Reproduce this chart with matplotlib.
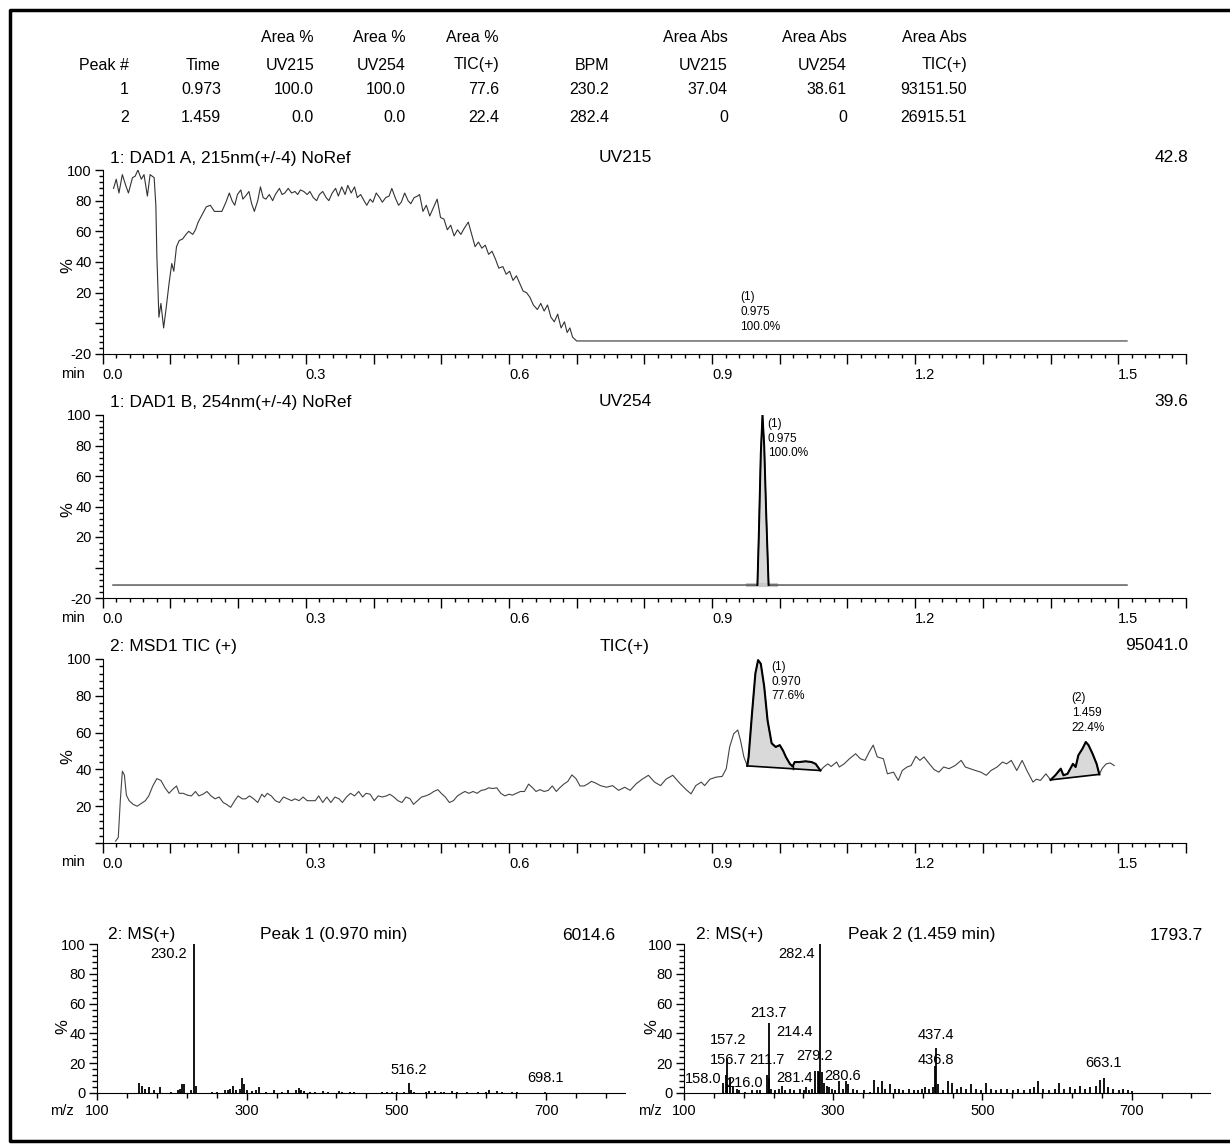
import numpy as np
import matplotlib.pyplot as plt
from matplotlib.ticker import MultipleLocator
from matplotlib.lines import Line2D

plt.rcParams['font.family'] = ['Liberation Sans', 'DejaVu Sans']

W, H = 1230, 1146

# ---- peak table ----
table_groups = ['', '', 'Area %', 'Area %', 'Area %', '', 'Area Abs', 'Area Abs', 'Area Abs']
table_cols = ['Peak #', 'Time', 'UV215', 'UV254', 'TIC(+)', 'BPM', 'UV215', 'UV254', 'TIC(+)']
peak_no = ['1', '2']
peak_time = ['0.973', '1.459']
area_pct_uv215 = ['100.0', '0.0']
area_pct_uv254 = ['100.0', '0.0']
area_pct_tic = ['77.6', '22.4']
bpm = ['230.2', '282.4']
area_abs_uv215 = ['37.04', '0']
area_abs_uv254 = ['38.61', '0']
area_abs_tic = ['93151.50', '26915.51']

# ---- UV 215 trace (min, %) ----
uv215_t = [0.016, 0.020, 0.024, 0.029, 0.034, 0.038, 0.044, 0.048, 0.052, 0.057,
           0.061, 0.066, 0.070, 0.076, 0.0785, 0.080, 0.083, 0.086, 0.090, 0.094,
           0.098, 0.102, 0.105, 0.109, 0.113, 0.118, 0.123, 0.127, 0.133, 0.137,
           0.141, 0.147, 0.153, 0.159, 0.165, 0.170, 0.176, 0.182, 0.187, 0.191,
           0.195, 0.199, 0.204, 0.207, 0.211, 0.216, 0.220, 0.224, 0.229, 0.233,
           0.237, 0.241, 0.246, 0.251, 0.255, 0.261, 0.265, 0.269, 0.274, 0.279,
           0.284, 0.288, 0.292, 0.297, 0.302, 0.306, 0.311, 0.316, 0.320, 0.325,
           0.330, 0.334, 0.339, 0.344, 0.348, 0.353, 0.358, 0.362, 0.367, 0.372,
           0.376, 0.381, 0.386, 0.390, 0.395, 0.399, 0.404, 0.409, 0.413, 0.418,
           0.423, 0.427, 0.432, 0.437, 0.441, 0.446, 0.451, 0.455, 0.460, 0.465,
           0.468, 0.473, 0.478, 0.483, 0.488, 0.494, 0.499, 0.504, 0.509, 0.514,
           0.519, 0.524, 0.529, 0.534, 0.540, 0.545, 0.550, 0.555, 0.560, 0.565,
           0.570, 0.575, 0.580, 0.585, 0.591, 0.596, 0.601, 0.606, 0.611, 0.616,
           0.621, 0.626, 0.631, 0.636, 0.642, 0.647, 0.652, 0.657, 0.662, 0.667,
           0.672, 0.677, 0.682, 0.686, 0.690, 0.694, 0.700, 1.513]
uv215_v = [88, 94, 85, 97, 90, 85, 95, 96, 100, 94,
           97, 83, 97, 95, 77, 44, 4, 13, -3, 11,
           26, 39, 34, 50, 54, 55, 58, 60, 58, 61,
           66, 71, 76, 77, 73, 73, 73, 79, 85, 80,
           77, 84, 87, 81, 83, 86, 78, 73, 80, 89,
           82, 81, 84, 80, 84, 88, 84, 85, 88, 85,
           86, 84, 87, 86, 84, 86, 82, 80, 84, 86,
           82, 80, 85, 88, 83, 89, 84, 90, 85, 89,
           82, 84, 80, 77, 81, 79, 85, 82, 79, 82,
           83, 88, 82, 77, 79, 85, 80, 78, 82, 83,
           84, 73, 77, 70, 75, 81, 69, 68, 61, 64,
           57, 61, 58, 62, 66, 58, 50, 53, 49, 51,
           45, 47, 42, 36, 37, 32, 34, 28, 31, 26,
           21, 20, 17, 12, 9, 13, 8, 12, 4, 1,
           6, -3, 1, -6, -3, -9, -11.5, -11.5]

# ---- UV 254 trace ----
uv254_t = [0.015, 0.967, 0.969, 0.972, 0.9745, 0.977, 0.980, 0.9835, 1.513]
uv254_v = [-11.5, -11.5, 20, 75, 100, 80, 35, -11.5, -11.5]

# ---- TIC trace ----
tic_t = [0.019, 0.023, 0.026, 0.029, 0.032, 0.035, 0.039, 0.045, 0.051, 0.057,
         0.063, 0.068, 0.074, 0.080, 0.086, 0.092, 0.098, 0.103, 0.109, 0.113,
         0.119, 0.125, 0.131, 0.137, 0.142, 0.148, 0.154, 0.160, 0.166, 0.172,
         0.178, 0.183, 0.189, 0.195, 0.200, 0.206, 0.211, 0.217, 0.223, 0.229,
         0.235, 0.239, 0.243, 0.249, 0.255, 0.261, 0.267, 0.273, 0.279, 0.284,
         0.290, 0.296, 0.302, 0.308, 0.314, 0.319, 0.325, 0.331, 0.337, 0.343,
         0.349, 0.354, 0.360, 0.366, 0.372, 0.378, 0.384, 0.389, 0.395, 0.401,
         0.407, 0.413, 0.419, 0.424, 0.430, 0.436, 0.442, 0.448, 0.454, 0.459,
         0.465, 0.471, 0.477, 0.483, 0.489, 0.495, 0.500, 0.506, 0.512, 0.518,
         0.524, 0.530, 0.535, 0.541, 0.547, 0.553, 0.559, 0.565, 0.570, 0.576,
         0.582, 0.588, 0.594, 0.600, 0.605, 0.611, 0.617, 0.623, 0.629, 0.635,
         0.640, 0.646, 0.652, 0.658, 0.664, 0.670, 0.675, 0.681, 0.687, 0.693,
         0.699, 0.705, 0.711, 0.716, 0.722, 0.728,
         0.735, 0.744, 0.753, 0.762, 0.771, 0.779, 0.788, 0.797, 0.806, 0.815,
         0.824, 0.832, 0.842, 0.853, 0.862, 0.869, 0.876, 0.884, 0.889, 0.897,
         0.906, 0.915, 0.921, 0.926, 0.932, 0.938, 0.942, 0.947, 0.952, 0.954,
         0.959, 0.964, 0.968, 0.972, 0.977, 0.982, 0.988, 0.994, 1.000, 1.005,
         1.009, 1.015, 1.019, 1.022, 1.029, 1.038, 1.047, 1.053, 1.060, 1.065,
         1.071, 1.076, 1.084, 1.088, 1.095, 1.103, 1.112, 1.119, 1.126, 1.132,
         1.138, 1.144, 1.153, 1.159, 1.168, 1.175, 1.181, 1.188, 1.194, 1.201,
         1.207, 1.213, 1.221, 1.228, 1.235, 1.242, 1.250, 1.259, 1.268, 1.274,
         1.281, 1.289, 1.297, 1.305, 1.312, 1.321, 1.329, 1.335, 1.342, 1.350,
         1.358, 1.365, 1.374, 1.379, 1.385, 1.393, 1.400, 1.407, 1.415, 1.419,
         1.425, 1.433, 1.437, 1.441, 1.447, 1.452, 1.456, 1.462, 1.468, 1.472,
         1.476, 1.482, 1.488, 1.494]
tic_v = [1, 3, 23, 39, 37, 26, 23, 21, 20, 21.5,
         23, 25.6, 31, 35, 34, 30, 27, 29, 31, 27,
         27, 26, 25.6, 28, 25.6, 26.5, 28, 25.6, 24, 25,
         22, 21, 19.4, 23, 25.6, 24, 24, 25.6, 24, 22,
         26.5, 25, 27, 25.6, 23, 22, 25, 24, 23, 24,
         23, 25, 23, 23, 23, 25.6, 22, 25, 22, 25,
         24, 22, 25, 27, 25.6, 28, 25, 27, 26.5, 23,
         25.6, 25, 25.6, 26.5, 25, 23, 22, 25, 24, 21,
         23, 25, 25.6, 26.5, 28, 29, 27, 25, 22, 23,
         25.6, 27, 28, 27, 28, 27, 28.6, 29, 30, 29.6,
         30, 27, 25.6, 26.5, 26, 27, 28, 28, 32, 30,
         28, 29, 28, 28.6, 31, 28, 30, 32, 33.5, 37,
         35, 31, 31, 32, 33.5, 32.6,
         31.2, 30.3, 31.2, 28.6, 30.3, 28.6, 32.2, 34.7, 36.8, 33.1,
         31.2, 34.7, 36.8, 32.2, 28.9, 26.7, 31.2, 33.1, 31.2, 34.7,
         35.8, 36.2, 40.4, 52.2, 59.4, 61.4, 55.8, 46.8, 41.9, 46.8,
         70.4, 92.2, 99.4, 97.4, 85.1, 66.6, 54.2, 52.2, 53.2, 50.1,
         46.8, 43.0, 41.6, 44.0, 44.0, 44.4, 44.0, 43.0, 39.4, 41.3,
         43.0, 41.6, 44.0, 41.3, 43.0, 45.8, 48.5, 45.8, 44.9, 49.4,
         53.2, 46.8, 45.8, 37.6, 38.5, 34.0, 39.4, 41.3, 42.1, 47.1,
         44.9, 46.8, 43.0, 39.9, 38.5, 41.3, 40.4, 42.1, 44.9, 41.3,
         40.4, 39.4, 38.5, 36.8, 39.4, 41.3, 44.0, 43.0, 44.9, 39.4,
         44.9, 39.4, 33.1, 34.7, 34.0, 37.6, 34.3, 36.8, 40.4, 36.8,
         37.6, 43.0, 41.3, 47.7, 51.2, 54.9, 53.2, 48.5, 43.0, 37.3,
         40.4, 43.0, 43.5, 42.1]

# integration baselines of the TIC peaks
tic_base1_t = [0.952, 1.060]
tic_base1_v = [41.9, 39.4]
tic_valley_t = 1.019
tic_base2_t = [1.400, 1.472]
tic_base2_v = [34.3, 37.3]

# ---- mass spectra ----
ms1_mz = [157, 160, 164, 170, 176, 185, 199, 208, 211, 214,
          217, 226, 230.2, 233, 254, 260, 271, 275, 278, 282,
          286, 291, 293.5, 296, 300, 307, 312, 317, 326, 337,
          347, 355, 366, 370, 373, 377, 385, 391, 402, 409,
          423, 428, 438, 444, 481, 488, 494, 501, 510, 516.2,
          520, 524, 539, 544, 551, 559, 564, 574, 581, 594,
          609, 619, 624, 634, 641, 654, 661, 698.1]
ms1_pct = [7, 5, 3, 4, 2, 4, 1, 2, 3, 6,
           6, 2, 100, 5, 1, 1, 2, 2, 3, 5,
           2, 3, 10, 6, 2, 1.5, 2, 4, 1, 2,
           1, 2, 2, 3.5, 2, 1.5, 1, 1, 1.5, 1,
           1.5, 1, 1, 0.8, 0.8, 0.8, 1, 1, 1, 7,
           2, 1, 1, 1.5, 1.5, 1, 1, 1.5, 1, 1,
           1, 1, 2, 1.5, 1, 1, 1, 0.5]
ms1_labels = ['230.2', '516.2', '698.1']
ms1_label_x = [195.4, 516.5, 698.5]
ms1_label_y = [93.3, 15.4, 10.1]

ms2_mz = [152.6, 156.7, 157.2, 158.0, 162.2, 165.3, 171.4, 173.9, 181.7, 191.1,
          197.2, 202.2, 211.7, 213.7, 214.4, 216.0, 222.5, 227.5, 231.6, 235.6,
          241.7, 247.8, 255.8, 260.9, 263.9, 268, 272, 275.6, 279.2, 280.6,
          281.4, 282.4, 285, 288, 291.6, 295, 299, 302.6, 307.6, 312.6,
          316.6, 320, 326, 332, 341, 349, 354.6, 359.8, 364.9, 370,
          376.5, 382.6, 387.7, 393.8, 400.9, 407.6, 413.7, 418.7, 422.9, 429,
          434.1, 436.8, 437.4, 441, 447, 453.4, 459, 465.6, 471.7, 477.8,
          484.6, 491, 498, 505, 511.6, 517.7, 525.3, 533, 540.4, 548.3,
          555.6, 563.6, 569.7, 574.8, 581.4, 589, 596.8, 603.2, 609.2, 617.3,
          623.4, 631, 637.6, 644.3, 652.8, 657.9, 663.1, 668, 675, 683,
          688, 695, 700.3]
ms2_pct = [7, 12, 23, 6, 10, 4, 3, 2, 1, 2,
           2, 2, 12, 47, 10, 3, 2, 3, 5, 2,
           3, 2, 3, 2, 4, 2, 3, 15, 15, 8,
           14, 100, 14, 7, 5, 4, 3, 2, 8, 3,
           8, 6, 3, 2, 2, 1, 9, 4, 8, 3,
           6, 3, 3, 2, 3, 2, 2, 3, 4, 3,
           4, 18, 30, 6, 2, 8, 7, 3, 4, 3,
           6, 3, 2, 7, 3, 2, 3, 3, 2, 3,
           2, 3, 4, 8, 3, 2, 3, 7, 3, 4,
           3, 5, 3, 4, 5, 9, 10, 4, 3, 2,
           3, 2, 1.5]
ms2_labels = ['282.4', '213.7', '214.4', '157.2', '156.7', '211.7', '279.2',
              '158.0', '216.0', '281.4', '280.6', '437.4', '436.8', '663.1']
ms2_label_x = [275.1, 213.6, 224.3, 158.8, 158.8, 211.0, 275.1,
               125.4, 181.6, 248.4, 312.6, 438.2, 438.2, 662.8]
ms2_label_y = [93.3, 53.7, 40.9, 35.6, 22.1, 22.1, 24.8,
               9.4, 6.7, 10.1, 11.4, 38.9, 22.1, 20.1]
ms2_label_ha = ['right', 'center', 'left', 'center', 'center', 'center', 'center',
                'center', 'center', 'center', 'center', 'center', 'center', 'center']

fig = plt.figure(figsize=(W / 100, H / 100), dpi=100)


def ftext(x, y, s, **kw):
    kw.setdefault('va', 'center')
    fig.text(x / W, 1 - y / H, s, **kw)


# page frame
fig.add_artist(Line2D([1, 10 / W, 10 / W, 1], [1 - 10 / H, 1 - 10 / H, 1 - 1141 / H, 1 - 1141 / H],
                      transform=fig.transFigure, color='black', lw=2.5))

# peak table
col_x = [129, 221, 314, 406, 499, 609, 728, 847, 967]
table_rows = list(zip(peak_no, peak_time, area_pct_uv215, area_pct_uv254, area_pct_tic,
                      bpm, area_abs_uv215, area_abs_uv254, area_abs_tic))
for x, g, c in zip(col_x, table_groups, table_cols):
    ftext(x, 37, g, ha='right', fontsize=11.5)
    ftext(x, 65, c, ha='right', fontsize=11.5)
for y, row in zip([90, 117], table_rows):
    for x, s in zip(col_x, row):
        ftext(x, y, s, ha='right', fontsize=11.5)


def chrom_axes(y_top, y_bot, ymin):
    ax = fig.add_axes([102.7 / W, 1 - y_bot / H, (1186 - 102.7) / W, (y_bot - y_top) / H])
    ax.patch.set_alpha(0)
    ax.set_xlim(0, 1.6)
    ax.set_ylim(ymin, 100)
    ax.spines[['top', 'right']].set_visible(False)
    xt = [round(0.1 * i, 1) for i in range(17)]
    xl = [f'{v:.1f}' if i % 3 == 0 and i <= 15 else '' for i, v in enumerate(xt)]
    ax.set_xticks(xt, xl)
    ax.xaxis.set_minor_locator(MultipleLocator(0.02))
    yt = list(range(ymin, 101, 20))
    ax.set_yticks(yt, [str(v) if v != 0 or ymin == 0 and False else '' for v in yt])
    ax.yaxis.set_minor_locator(MultipleLocator(4))
    ax.tick_params(which='major', length=6, width=1, labelsize=10.5, pad=2)
    ax.tick_params(which='minor', length=3, width=1)
    ax.tick_params(axis='x', which='major', length=7, pad=3)
    for lab in ax.get_xticklabels():
        lab.set_horizontalalignment('left')
    return ax


# panel 1: UV215
ax1 = chrom_axes(170, 354, -20)
ax1.plot(uv215_t, uv215_v, color='#333333', lw=0.8)
ax1.text(0.942, 21, '(1)\n0.975\n100.0%', fontsize=8.5, va='top', ha='left', linespacing=1.3)
ftext(110, 158, '1: DAD1 A, 215nm(+/-4) NoRef', ha='left', fontsize=12.5)
ftext(625, 158, 'UV215', ha='center', fontsize=12.5)
ftext(1188, 158, '42.8', ha='right', fontsize=12.5)
ftext(73, 374, 'min', ha='center', fontsize=10.5)
ftext(68, 266, '%', ha='center', rotation=90, fontsize=12)

# panel 2: UV254
ax2 = chrom_axes(415, 598, -20)
t2 = np.array(uv254_t)
v2 = np.array(uv254_v)
pk = (t2 >= 0.967) & (t2 <= 0.9835)
ax2.plot([0.950, 0.998], [-11.5, -11.5], color='#c8c8c8', lw=3, solid_capstyle='butt')
ax2.fill_between(t2[pk], -11.5, v2[pk], color='#d9d9d9', lw=0)
ax2.plot(uv254_t, uv254_v, color='#333333', lw=0.9)
ax2.plot(t2[pk], v2[pk], color='black', lw=1.4)
ax2.text(0.982, 98, '(1)\n0.975\n100.0%', fontsize=8.5, va='top', ha='left', linespacing=1.3)
ftext(110, 402, '1: DAD1 B, 254nm(+/-4) NoRef', ha='left', fontsize=12.5)
ftext(625, 402, 'UV254', ha='center', fontsize=12.5)
ftext(1188, 402, '39.6', ha='right', fontsize=12.5)
ftext(73, 618, 'min', ha='center', fontsize=10.5)
ftext(68, 510, '%', ha='center', rotation=90, fontsize=12)

# panel 3: TIC
ax3 = chrom_axes(659, 843, 0)
t3 = np.array(tic_t)
v3 = np.array(tic_v)
for bt, bv in [(tic_base1_t, tic_base1_v), (tic_base2_t, tic_base2_v)]:
    sel = (t3 >= bt[0]) & (t3 <= bt[1])
    base = np.interp(t3[sel], bt, bv)
    ax3.fill_between(t3[sel], base, v3[sel], color='#d9d9d9', lw=0)
ax3.plot(t3, v3, color='#444444', lw=0.8)
for bt, bv in [(tic_base1_t, tic_base1_v), (tic_base2_t, tic_base2_v)]:
    sel = (t3 >= bt[0]) & (t3 <= bt[1])
    ax3.plot(t3[sel], v3[sel], color='black', lw=1.5)
    ax3.plot(bt, bv, color='black', lw=1.2)
    ax3.plot([bt[0], bt[0]], [bv[0], v3[sel][0]], color='black', lw=1.2)
    ax3.plot([bt[1], bt[1]], [bv[1], v3[sel][-1]], color='black', lw=1.2)
vv = np.interp(tic_valley_t, tic_t, tic_v)
ax3.plot([tic_valley_t, tic_valley_t], [np.interp(tic_valley_t, tic_base1_t, tic_base1_v), vv],
         color='black', lw=1.0)
ax3.text(0.988, 99, '(1)\n0.970\n77.6%', fontsize=8.5, va='top', ha='left', linespacing=1.3)
ax3.text(1.431, 82, '(2)\n1.459\n22.4%', fontsize=8.5, va='top', ha='left', linespacing=1.3)
ftext(110, 646, '2: MSD1 TIC (+)', ha='left', fontsize=12.5)
ftext(625, 646, 'TIC(+)', ha='center', fontsize=12.5)
ftext(1188, 646, '95041.0', ha='right', fontsize=12.5)
ftext(73, 862, 'min', ha='center', fontsize=10.5)
ftext(68, 757, '%', ha='center', rotation=90, fontsize=12)


def ms_axes(x0, x1):
    ax = fig.add_axes([x0 / W, 1 - 1093 / H, (x1 - x0) / W, 149 / H])
    ax.patch.set_alpha(0)
    ax.set_xlim(100, 805)
    ax.set_ylim(0, 100)
    ax.spines[['top', 'right']].set_visible(False)
    ax.set_xticks([100, 300, 500, 700])
    ax.xaxis.set_minor_locator(MultipleLocator(40, offset=20))
    ax.set_yticks(range(0, 101, 20))
    ax.yaxis.set_minor_locator(MultipleLocator(4))
    ax.tick_params(which='major', length=6, width=1, labelsize=10.5, pad=2)
    ax.tick_params(which='minor', length=3.5, width=1)
    ax.tick_params(axis='x', which='major', length=5, pad=3)
    return ax


# MS of peak 1
ax4 = ms_axes(96.7, 625)
ax4.vlines(ms1_mz, 0, ms1_pct, color='black', lw=1.3)
for s, x, y in zip(ms1_labels, ms1_label_x, ms1_label_y):
    ax4.text(x, y, s, ha='center', va='center', fontsize=10.5)
ftext(108, 935, '2: MS(+)', ha='left', fontsize=12.5)
ftext(334, 935, 'Peak 1 (0.970 min)', ha='center', fontsize=12.5)
ftext(615, 935, '6014.6', ha='right', fontsize=12.5)
ftext(62, 1111, 'm/z', ha='center', fontsize=10.5)
ftext(63, 1027, '%', ha='center', rotation=90, fontsize=12)

# MS of peak 2
ax5 = ms_axes(684, 1210)
ax5.vlines(ms2_mz, 0, ms2_pct, color='black', lw=1.3)
for s, x, y, ha in zip(ms2_labels, ms2_label_x, ms2_label_y, ms2_label_ha):
    ax5.text(x, y, s, ha=ha, va='center', fontsize=10.5)
ftext(696, 935, '2: MS(+)', ha='left', fontsize=12.5)
ftext(922, 935, 'Peak 2 (1.459 min)', ha='center', fontsize=12.5)
ftext(1203, 935, '1793.7', ha='right', fontsize=12.5)
ftext(650, 1111, 'm/z', ha='center', fontsize=10.5)
ftext(652, 1027, '%', ha='center', rotation=90, fontsize=12)

fig.savefig('out.png', dpi=100)
